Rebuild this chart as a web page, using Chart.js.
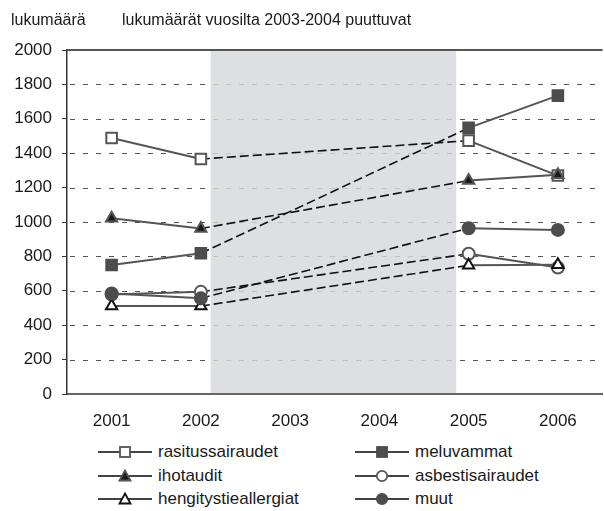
<!DOCTYPE html>
<html>
<head>
<meta charset="utf-8">
<script src="https://cdn.jsdelivr.net/npm/chart.js@4"></script>
<style>
  body { margin: 0; background: #fff; font-family: "Liberation Sans", Arial, sans-serif; color: #1a1a1a; }
  #kehys { position: relative; width: 604px; height: 511px; overflow: hidden; }
  #piirto { position: absolute; left: 0; top: 0; width: 612px; height: 430px; }
  .otsikko { position: absolute; top: 11px; font-size: 16px; white-space: nowrap; }
  .selite { position: absolute; display: flex; align-items: center; font-size: 17px; white-space: nowrap; height: 20px; }
  .selite svg { margin-right: 6px; }
</style>
</head>
<body>
<div id="kehys">
  <div id="piirto"><canvas id="grafiikka"></canvas></div>
  <div class="otsikko" style="left:11px">lukumäärä</div>
  <div class="otsikko" style="left:122px">lukumäärät vuosilta 2003-2004 puuttuvat</div>
  <div id="selitteet"></div>
</div>
<script>
const vuodet = ["2001", "2002", "2003", "2004", "2005", "2006"];

const rasitussairaudet = [1488, 1366, null, null, 1473, 1270];
const meluvammat = [750, 818, null, null, 1547, 1735];
const ihotaudit = [1022, 962, null, null, 1241, 1274];
const asbestisairaudet = [578, 594, null, null, 815, 735];
const hengitystieallergiat = [511, 511, null, null, 748, 752];
const muut = [585, 556, null, null, 964, 954];

const sarjat = [
  { nimi: "rasitussairaudet", arvot: rasitussairaudet, muoto: "rect", tayte: "#ffffff", reuna: "#555555", koko: 7.5 },
  { nimi: "meluvammat", arvot: meluvammat, muoto: "rect", tayte: "#4d4d4d", reuna: "#4d4d4d", koko: 7.5 },
  { nimi: "ihotaudit", arvot: ihotaudit, muoto: "triangle", tayte: "#1a1a1a", reuna: "#555555", koko: 6.5 },
  { nimi: "asbestisairaudet", arvot: asbestisairaudet, muoto: "circle", tayte: "#ffffff", reuna: "#555555", koko: 6 },
  { nimi: "hengitystieallergiat", arvot: hengitystieallergiat, muoto: "triangle", tayte: "#ffffff", reuna: "#111111", koko: 6.5 },
  { nimi: "muut", arvot: muut, muoto: "circle", tayte: "#4d4d4d", reuna: "#4d4d4d", koko: 6 }
];

// katkoviivaiset apuviivat + harmaa alue puuttuvien vuosien kohdalla
const varjostus = {
  id: "varjostus",
  beforeDatasetsDraw(chart) {
    const { ctx, chartArea: a, scales: { x, y } } = chart;
    ctx.save();
    ctx.strokeStyle = "#555555";
    ctx.lineWidth = 1;
    ctx.setLineDash([5, 8]);
    y.ticks.forEach(t => {
      if (t.value <= 0 || t.value >= 2000) return;
      const py = Math.round(y.getPixelForValue(t.value)) + 0.5;
      ctx.beginPath();
      ctx.moveTo(a.left + 3, py);
      ctx.lineTo(a.right, py);
      ctx.stroke();
    });
    ctx.setLineDash([]);
    const x1 = x.getPixelForValue(1.11);
    const x2 = x.getPixelForValue(3.86);
    ctx.fillStyle = "rgba(214,216,220,0.82)";
    ctx.fillRect(x1, a.top, x2 - x1, a.bottom - a.top - 1);
    ctx.strokeStyle = "#555555";
    ctx.lineWidth = 2;
    ctx.beginPath();
    ctx.moveTo(a.left, a.top);
    ctx.lineTo(a.right, a.top);
    ctx.stroke();
    ctx.restore();
  }
};

const katkoviiva = ctx => ctx.p0.skip || ctx.p1.skip;

new Chart(document.getElementById("grafiikka"), {
  type: "line",
  data: {
    labels: vuodet,
    datasets: sarjat.map((s, i) => ({
      label: s.nimi,
      data: s.arvot,
      order: -i,
      spanGaps: true,
      borderColor: "#555555",
      borderWidth: 2,
      pointStyle: s.muoto,
      pointRadius: s.koko,
      pointBackgroundColor: s.tayte,
      pointBorderColor: s.reuna,
      pointBorderWidth: 2,
      segment: {
        borderDash: ctx => katkoviiva(ctx) ? [9, 4] : undefined,
        borderColor: ctx => katkoviiva(ctx) ? "#111111" : undefined,
        borderWidth: ctx => katkoviiva(ctx) ? 1.6 : undefined
      }
    }))
  },
  options: {
    responsive: true,
    maintainAspectRatio: false,
    animation: false,
    layout: { padding: { top: 50, right: 0, left: 0, bottom: 0 } },
    plugins: { legend: { display: false }, tooltip: { enabled: false } },
    scales: {
      x: {
        offset: true,
        grid: { display: false, drawTicks: false },
        border: { display: true, color: "#666666", width: 2 },
        ticks: { color: "#1a1a1a", font: { family: "Liberation Sans", size: 17 }, padding: 17, maxRotation: 0 },
        afterFit(s) { s.height = 36; }
      },
      y: {
        min: 0,
        max: 2000,
        ticks: {
          stepSize: 200,
          color: "#1a1a1a",
          font: { family: "Liberation Sans", size: 17 },
          padding: 10,
          callback: v => String(v)
        },
        grid: { drawOnChartArea: false, tickLength: 5, tickColor: "#333333", lineWidth: 1 },
        border: { display: true, color: "#333333", width: 1.5 },
        afterFit(s) { s.width = 67; }
      }
    }
  },
  plugins: [varjostus]
});

// selitteet kahteen sarakkeeseen
function merkki(s) {
  let m = "";
  const t = s.tayte, r = s.reuna;
  if (s.muoto === "rect") m = `<rect x="22" y="2" width="10" height="10" fill="${t}" stroke="${r}" stroke-width="1.8"/>`;
  else if (s.muoto === "circle") m = `<circle cx="27" cy="7" r="5.2" fill="${t}" stroke="${r}" stroke-width="1.8"/>`;
  else m = `<polygon points="27,1.5 32.5,11.5 21.5,11.5" fill="${t}" stroke="${r}" stroke-width="1.8"/>`;
  return `<svg width="54" height="14"><line x1="0" y1="7" x2="54" y2="7" stroke="#444" stroke-width="2"/>${m}</svg>`;
}
const selitteet = document.getElementById("selitteet");
sarjat.forEach((s, i) => {
  const d = document.createElement("div");
  d.className = "selite";
  d.style.left = (i % 2 === 0 ? 98 : 355) + "px";
  d.style.top = (442 + Math.floor(i / 2) * 23.5) + "px";
  d.innerHTML = merkki(s) + `<span>${s.nimi}</span>`;
  selitteet.appendChild(d);
});
</script>
</body>
</html>
